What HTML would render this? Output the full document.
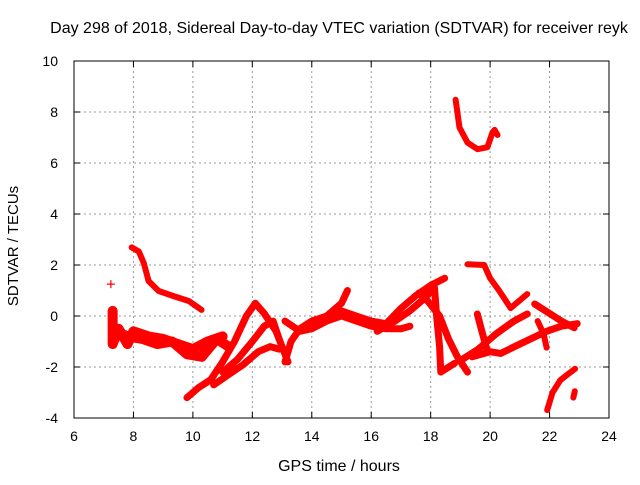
<!DOCTYPE html>
<html><head><meta charset="utf-8"><style>
body{margin:0;background:#fff}
svg text{font-family:"Liberation Sans",sans-serif;font-size:14px;fill:#000}
</style></head><body>
<svg id="c" width="640" height="480">
<text x="339" y="33" text-anchor="middle" style="font-size:16px">Day 298 of 2018, Sidereal Day-to-day VTEC variation (SDTVAR) for receiver reyk</text>
<text x="339" y="471" text-anchor="middle" style="font-size:16px">GPS time / hours</text>
<text transform="translate(18,246) rotate(-90)" text-anchor="middle" style="font-size:15px">SDTVAR / TECUs</text>
<g id="grid"></g><g id="marks"></g>
<rect x="74" y="61" width="535" height="357" fill="none" stroke="#000" stroke-width="1"/>
</svg>
<script>
const xTicks=[6,8,10,12,14,16,18,20,22,24];
const yTicks=[-4,-2,0,2,4,6,8,10];
const isolated=[[7.24,1.25]];
const track1=[[7.94,2.69],[8.18,2.53],[8.35,2.07],[8.51,1.37],[8.85,0.98],[9.35,0.78],[9.86,0.59],[10.29,0.24]];
const track2=[[7.3,0.2],[7.3,-1.1],[7.5,-0.5],[7.8,-1.1],[8.0,-0.6],[8.5,-0.8],[9.0,-0.9],[9.5,-1.1],[10.0,-1.3],[10.5,-1.0],[11.0,-0.8]];
const track3=[[7.4,-0.6],[7.8,-0.8],[8.3,-0.9],[8.8,-1.1],[9.3,-1.0],[9.8,-1.5],[10.3,-1.6],[10.8,-0.9],[11.2,-1.2]];
const track4=[[9.8,-3.2],[10.2,-2.8],[10.6,-2.5],[11.0,-1.8],[11.4,-1.0],[11.8,0.0],[12.1,0.5],[12.4,0.1],[12.8,-0.6],[13.0,-1.2],[13.2,-1.8]];
const track5=[[10.7,-2.7],[11.2,-2.3],[11.7,-1.9],[12.2,-1.4],[12.6,-1.2],[12.9,-1.3]];
const track6=[[11.0,-2.2],[11.5,-1.7],[12.0,-1.0],[12.4,-0.4],[12.7,-0.2],[12.9,-0.9]];
const track7=[[13.1,-1.8],[13.3,-1.0],[13.6,-0.5],[14.0,-0.2],[14.5,0.0],[15.0,0.5],[15.2,1.0]];
const track8=[[13.1,-0.2],[13.6,-0.6],[14.0,-0.5],[14.5,-0.2],[15.0,0.0],[15.5,-0.2],[16.0,-0.4],[16.5,-0.5],[17.0,-0.5],[17.3,-0.4]];
const track9=[[14.3,-0.1],[15.0,0.2],[15.5,0.0],[16.0,-0.2],[16.5,-0.3],[17.0,0.3],[17.5,0.8],[18.0,1.2],[18.47,1.48]];
const track10=[[16.2,-0.6],[16.8,-0.2],[17.3,0.2],[17.7,0.6],[18.13,1.1],[18.2,0.0],[18.3,-1.2],[18.34,-2.2],[18.8,-1.86]];
const track11=[[17.6,0.9],[17.9,0.59],[18.3,0.0],[18.6,-0.9],[18.9,-1.6],[19.24,-2.2]];
const track12=[[19.57,0.08],[19.7,-0.5],[19.9,-1.36]];
const track13=[[19.24,2.03],[19.8,2.0],[20.0,1.48],[20.3,1.0],[20.69,0.31],[21.25,0.86]];
const track14=[[19.0,-1.75],[19.6,-1.3],[20.2,-0.7],[20.8,-0.2],[21.25,0.08]];
const track15=[[19.4,-1.6],[20.0,-1.4],[20.35,-1.47],[21.0,-1.1],[21.9,-0.6],[22.4,-0.4],[22.93,-0.3]];
const track16=[[21.5,0.47],[22.0,0.1],[22.4,-0.2],[22.83,-0.46]];
const track17=[[21.9,-1.24],[21.8,-0.7],[21.6,-0.2]];
const track18=[[21.92,-3.69],[22.1,-3.0],[22.36,-2.52],[22.6,-2.3],[22.86,-2.07]];
const track19=[[22.8,-3.2],[22.85,-2.95]];
const track20=[[18.84,8.48],[18.97,7.39],[19.24,6.8],[19.58,6.54],[19.91,6.62],[20.08,7.2],[20.15,7.3],[20.25,7.1]];
const tracks=[track1,track2,track3,track4,track5,track6,track7,track8,track9,track10,track11,track12,track13,track14,track15,track16,track17,track18,track19,track20];
const widths=[6,10,10,7,7,7,7,7,7,7,7,7,6,7,7,7,6,6,6,6];
const L=74,R=609,T=61,B=418,xMin=6,xMax=24,yMin=-4,yMax=10;
const sx=v=>L+(v-xMin)/(xMax-xMin)*(R-L);
const sy=v=>B-(v-yMin)/(yMax-yMin)*(B-T);
const NS="http://www.w3.org/2000/svg";
const grid=document.getElementById('grid'),marks=document.getElementById('marks');
function mk(p,tag,a){const e=document.createElementNS(NS,tag);for(const k in a)e.setAttribute(k,a[k]);p.appendChild(e);return e;}
xTicks.forEach(t=>{const x=sx(t);
 if(t>xMin&&t<xMax){const g=mk(grid,'line',{x1:x,x2:x,y1:T,y2:B,stroke:'#999','stroke-dasharray':'2,3'});
 
 }
 mk(grid,'line',{x1:x,x2:x,y1:B,y2:B-6,stroke:'#000'});mk(grid,'line',{x1:x,x2:x,y1:T,y2:T+6,stroke:'#000'});
 const tx=mk(grid,'text',{x:x,y:B+23,'text-anchor':'middle'});tx.textContent=t;
 
 });
yTicks.forEach(t=>{const y=sy(t);
 if(t>yMin&&t<yMax){const g=mk(grid,'line',{x1:L,x2:R,y1:y,y2:y,stroke:'#999','stroke-dasharray':'2,3'});
 
 }
 mk(grid,'line',{x1:L,x2:L+6,y1:y,y2:y,stroke:'#000'});mk(grid,'line',{x1:R,x2:R-6,y1:y,y2:y,stroke:'#000'});
 const tx=mk(grid,'text',{x:L-16,y:y+5,'text-anchor':'end'});tx.textContent=t;
 
 });
tracks.forEach((tr,i)=>{
 const pl=mk(marks,'polyline',{points:tr.map(p=>sx(p[0])+','+sy(p[1])).join(' '),fill:'none',stroke:'#f00','stroke-width':widths[i],'stroke-linejoin':'round','stroke-linecap':'round'});
 
 
});
isolated.forEach(p=>{const x=sx(p[0]),y=sy(p[1]);
 const g=mk(marks,'path',{d:`M${x-4},${y}H${x+4}M${x},${y-4}V${y+4}`,stroke:'#f00','stroke-width':1.2});
 
 });
</script>
</body></html>
